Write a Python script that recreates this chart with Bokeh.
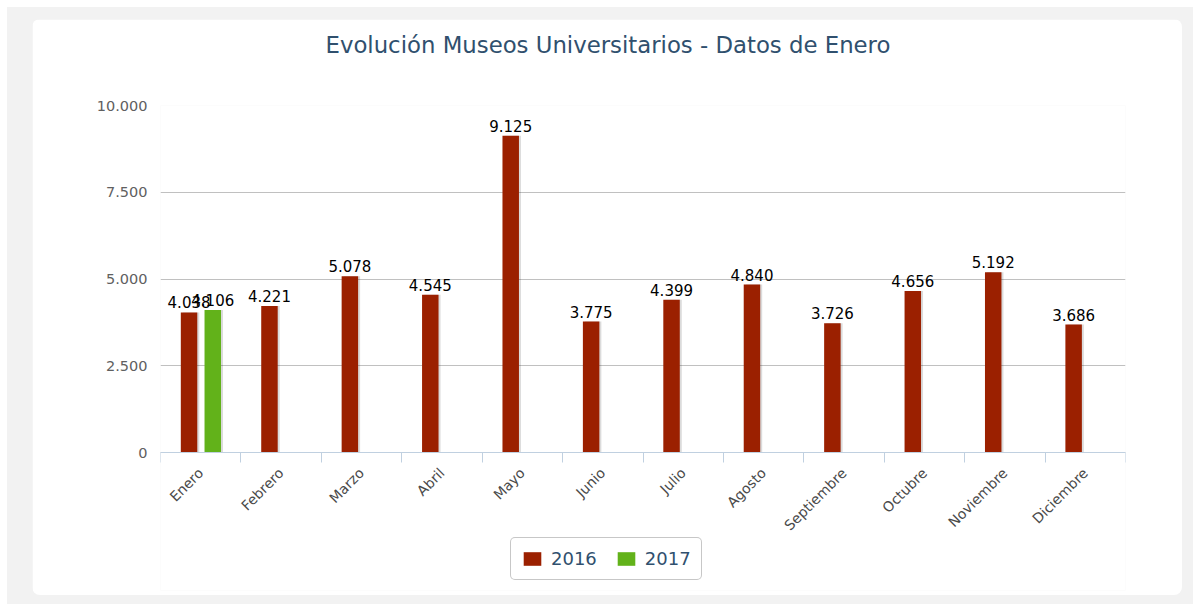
from bokeh.plotting import figure
from bokeh.layouts import column
from bokeh.models import (ColumnDataSource, Range1d, FixedTicker, Legend, LegendItem, Title)
from bokeh.embed import file_html
from bokeh.resources import INLINE
from bokeh.core.properties import value

# ---- data ----
months = ["Enero", "Febrero", "Marzo", "Abril", "Mayo", "Junio", "Julio",
          "Agosto", "Septiembre", "Octubre", "Noviembre", "Diciembre"]
v2016 = [4038, 4221, 5078, 4545, 9125, 3775, 4399, 4840, 3726, 4656, 5192, 3686]
months2017 = ["Enero"]
v2017 = [4106]
yticks = [0, 2500, 5000, 7500, 10000]
ytick_labels = ["0", "2.500", "5.000", "7.500", "10.000"]
title_text = "Evolución Museos Universitarios - Datos de Enero"

RED = "#9B2000"
GREEN = "#62B21A"
TXT = "#30506E"
FONT = "DejaVu Sans"

def fmt(v):
    return f"{v:,}".replace(",", ".")

idx = {m: i for i, m in enumerate(months)}
OFF16, OFF17, BW = -0.145, 0.15, 0.205

s16 = ColumnDataSource(dict(x=[idx[m] + 0.5 + OFF16 for m in months], y=v2016,
                            sx=[idx[m] + 0.5 + OFF16 + 0.025 for m in months],
                            lab=[fmt(v) for v in v2016]))
s17 = ColumnDataSource(dict(x=[idx[m] + 0.5 + OFF17 for m in months2017], y=v2017,
                            sx=[idx[m] + 0.5 + OFF17 + 0.025 for m in months2017],
                            lab=[fmt(v) for v in v2017]))

# plot area extends below zero so that the axis labels and legend sit inside it
FRAME_H = 485          # px: 347 px for 0..10000 plus room below
Y_MIN = -10000 * (FRAME_H - 347) / 347

p = figure(width=1150, height=576, output_backend="svg", toolbar_location=None,
           x_range=Range1d(0, 12), y_range=Range1d(Y_MIN, 10000),
           min_border_left=128, min_border_right=57, min_border_top=86,
           min_border_bottom=5, margin=(12, 11, 9, 25))
p.border_fill_color = "white"
p.background_fill_color = "white"
p.outline_line_color = None
p.styles = {"border-radius": "8px", "overflow": "hidden"}

p.title.text = ""

# spacer between plot area and title (added first -> closest to plot area)
p.add_layout(Title(text=" ", text_font_size="1px", standoff=45), "above")

# real title, stacked above the spacer
title = Title(text=title_text, align="left", offset=165, text_font=FONT,
              text_font_style="normal", text_font_size="22.8px",
              text_color=TXT, standoff=0)
p.add_layout(title, "above")

# shadows
for src in (s16, s17):
    p.vbar(x="sx", top="y", bottom=0, width=BW, source=src, fill_color="black",
           fill_alpha=0.14, line_color=None)

r16 = p.vbar(x="x", top="y", bottom=0, width=BW, source=s16, fill_color=RED,
             line_color=None)
r17 = p.vbar(x="x", top="y", bottom=0, width=BW, source=s17, fill_color=GREEN,
             line_color=None)

for src in (s16, s17):
    p.text(x="x", y="y", text="lab", source=src, text_align="center",
           text_baseline="bottom", y_offset=-4, text_font=value(FONT),
           text_font_size="15px", text_color="black")

# y axis
p.yaxis.ticker = FixedTicker(ticks=yticks)
p.yaxis.major_label_overrides = {t: l for t, l in zip(yticks, ytick_labels)}
p.yaxis.axis_line_color = None
p.yaxis.major_tick_line_color = None
p.yaxis.major_tick_out = 0
p.yaxis.major_tick_in = 0
p.yaxis.minor_tick_line_color = None
p.yaxis.major_label_text_font = FONT
p.yaxis.major_label_text_font_size = "14.5px"
p.yaxis.major_label_text_color = "#606060"
p.yaxis.major_label_standoff = 13
p.ygrid.ticker = FixedTicker(ticks=yticks)
p.ygrid.grid_line_color = "#C0C0C0"

# x axis (placed at y = 0)
centers = [i + 0.5 for i in range(len(months))]
bounds = [float(i) for i in range(len(months) + 1)]
p.xaxis.fixed_location = 0
p.xaxis.ticker = FixedTicker(ticks=centers, minor_ticks=bounds)
p.xaxis.major_label_overrides = {c: m for c, m in zip(centers, months)}
p.xaxis.axis_line_color = "#C0D0E0"
p.xaxis.major_tick_line_color = None
p.xaxis.major_tick_in = 0
p.xaxis.major_tick_out = 10
p.xaxis.minor_tick_line_color = "#C0D0E0"
p.xaxis.minor_tick_in = 0
p.xaxis.minor_tick_out = 10
p.xaxis.major_label_orientation = 0.785398
p.xaxis.major_label_text_font = FONT
p.xaxis.major_label_text_font_size = "14px"
p.xaxis.major_label_text_color = "#4A4A4A"
p.xaxis.major_label_standoff = 8
p.xgrid.grid_line_color = None

legend = Legend(items=[LegendItem(label="2016", renderers=[r16]),
                       LegendItem(label="2017", renderers=[r17])],
                orientation="horizontal", location=(350, 10))
legend.label_text_font = FONT
legend.label_text_font_size = "18px"
legend.label_text_color = TXT
legend.glyph_width = 22
legend.glyph_height = 17
legend.label_standoff = 8
legend.spacing = 18
legend.padding = 10
legend.margin = 0
legend.border_line_color = "#909090"
legend.border_radius = 5
legend.background_fill_color = "white"
legend.background_fill_alpha = 1.0
p.add_layout(legend, "center")

layout = column(p, margin=(7, 0, 0, 7),
                styles={"background-color": "#F2F2F2"})

open("out.html", "w").write(file_html(layout, INLINE))
